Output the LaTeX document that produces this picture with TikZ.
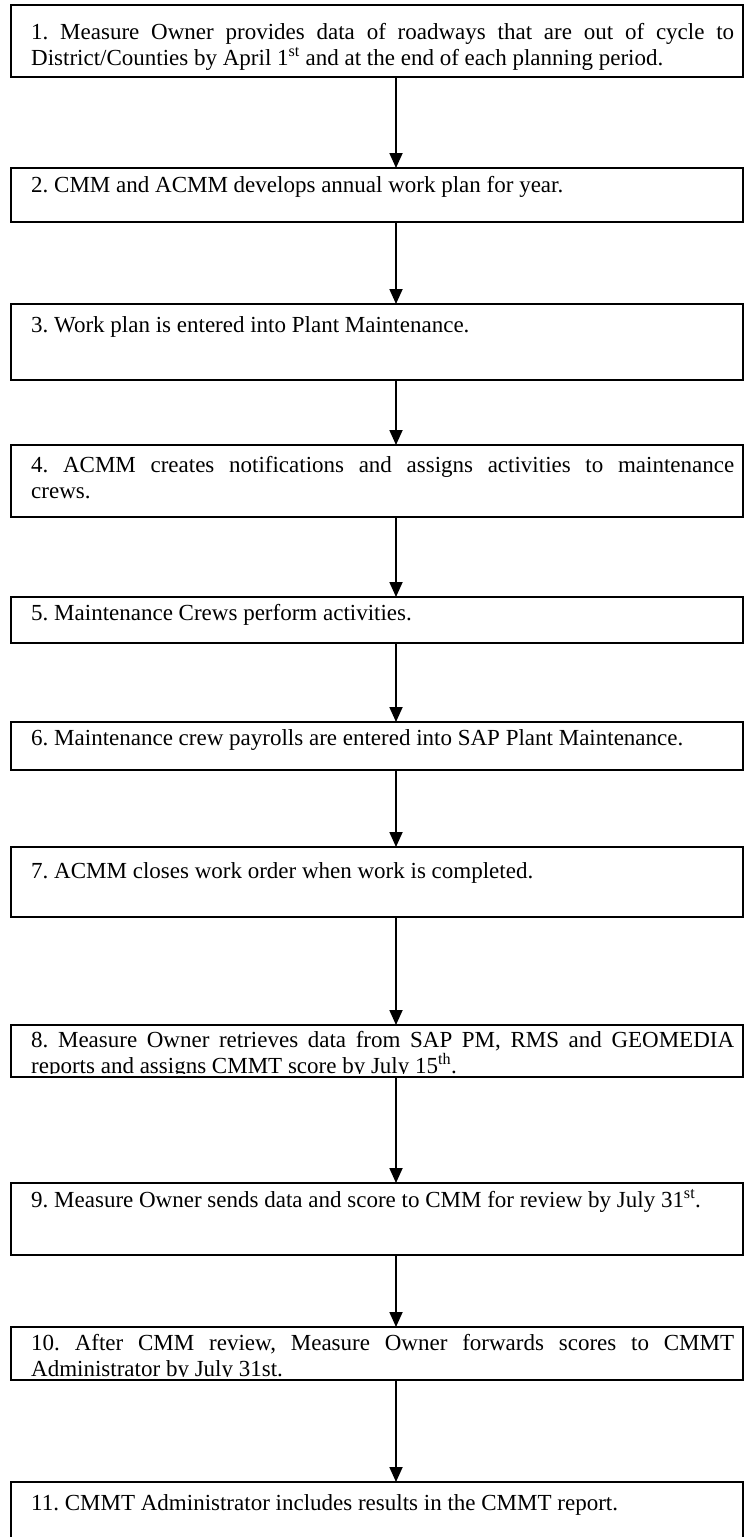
\documentclass[tikz,border=0pt]{standalone}
\usepackage{fontspec}
\setmainfont{Liberation Serif}
\usetikzlibrary{arrows.meta}
\frenchspacing
\tikzset{
  stepbox/.style={draw=black, line width=1.8pt, rectangle, minimum width=732pt, inner sep=0pt, outer sep=0pt},
  steptext/.style={anchor=north west, text width=703pt, align=justify, inner sep=0pt, font=\fontsize{23}{26}\selectfont\frenchspacing},
  flow/.style={draw=black, line width=1.8pt, -{Triangle[width=13pt,length=15pt]}},
}
\newcommand\mkstep[5]{%
  \node[stepbox, minimum height={#3-#2}] (#1) at (377,{(#2+#3)/2}) {};
  \begin{scope}
    \clip (13,#2+1) rectangle (741,#3-4);
    \node[steptext] (#1t) at (31,#4-18) {\rule{0pt}{18pt}#5};
  \end{scope}}
\begin{document}
\begin{tikzpicture}[x=1pt,y=-1pt]
  \useasboundingbox (0,0) rectangle (744,1537);
  \fill[white] (0,0) rectangle (744,1537);
  \coordinate (ax) at (396,0);
  \mkstep{b1}{5}{77}{39}{1. Measure Owner provides data of roadways that are out of cycle to\linebreak District/Counties by April 1\textsuperscript{st} and at the end of each planning period.}
  \mkstep{b2}{168}{222}{192}{2. CMM and ACMM develops annual work plan for year.}
  \mkstep{b3}{304}{380}{332}{3. Work plan is entered into Plant Maintenance.}
  \mkstep{b4}{445}{517}{472}{4. ACMM creates notifications and assigns activities to maintenance\linebreak crews.}
  \mkstep{b5}{597}{643}{620}{5. Maintenance Crews perform activities.}
  \mkstep{b6}{722}{770}{745}{6. Maintenance crew payrolls are entered into SAP Plant Maintenance.}
  \mkstep{b7}{847}{917}{878}{7. ACMM closes work order when work is completed.}
  \mkstep{b8}{1025}{1077}{1047}{8. Measure Owner retrieves data from SAP PM, RMS and GEOMEDIA\linebreak reports and assigns CMMT score by July 15\textsuperscript{th}.}
  \mkstep{b9}{1183}{1255}{1207}{9. Measure Owner sends data and score to CMM for review by July 31\textsuperscript{st}.}
  \mkstep{b10}{1327}{1380}{1350}{10. After CMM review, Measure Owner forwards scores to CMMT\linebreak Administrator by July 31st.}
  \mkstep{b11}{1482}{1575}{1510}{11. CMMT Administrator includes results in the CMMT report.}
  \draw[flow] (b1.south -| ax) -- (b2.north -| ax);
  \draw[flow] (b2.south -| ax) -- (b3.north -| ax);
  \draw[flow] (b3.south -| ax) -- (b4.north -| ax);
  \draw[flow] (b4.south -| ax) -- (b5.north -| ax);
  \draw[flow] (b5.south -| ax) -- (b6.north -| ax);
  \draw[flow] (b6.south -| ax) -- (b7.north -| ax);
  \draw[flow] (b7.south -| ax) -- (b8.north -| ax);
  \draw[flow] (b8.south -| ax) -- (b9.north -| ax);
  \draw[flow] (b9.south -| ax) -- (b10.north -| ax);
  \draw[flow] (b10.south -| ax) -- (b11.north -| ax);
\end{tikzpicture}
\end{document}
